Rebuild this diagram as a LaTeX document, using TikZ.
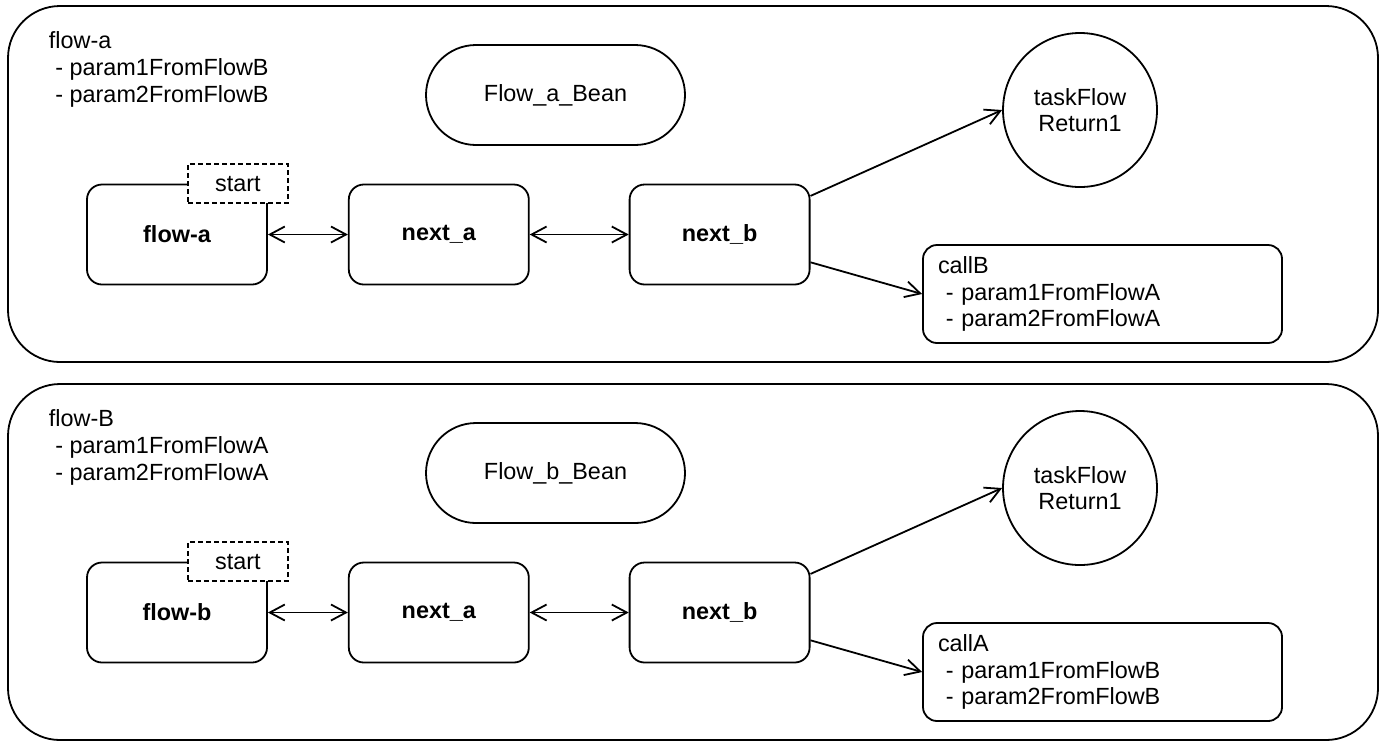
\documentclass[tikz,border=0pt]{standalone}
\usepackage{fontspec}
\setmainfont{Liberation Sans}
\usetikzlibrary{arrows.meta,positioning}
\tikzset{
  basic/.style    = {draw, rectangle, font=\fontsize{11.7}{13.3}\selectfont},
  group/.style    = {basic, rounded corners=26pt, minimum width=685pt,
                     minimum height=178pt},
  bean/.style     = {basic, rounded corners=25pt, minimum width=129.5pt,
                     minimum height=50pt},
  flowbox/.style  = {basic, rounded corners=7.5pt, minimum width=90pt,
                     minimum height=50pt, font=\fontsize{11.7}{13.3}\selectfont\bfseries},
  startbox/.style = {basic, fill=white, dash pattern=on 2.5pt off 1.5pt,
                     minimum width=50pt, minimum height=19.5pt, inner sep=0pt},
  result/.style   = {basic, circle, minimum size=77pt, inner sep=0pt, align=center},
  callbox/.style  = {basic, rounded corners=7pt, text width=164.5pt,
                     inner xsep=7.5pt, minimum height=49pt, align=left},
  grouptext/.style = {font=\fontsize{11.7}{13.3}\selectfont, align=left,
                     anchor=north west, inner sep=0pt}
}

\begin{document}
\begin{tikzpicture}[x=0.5pt, y=-0.5pt, line width=0.9pt,
  >={Straight Barb[length=7.5pt,width=8pt]}]
\useasboundingbox (0,0) rectangle (1384,741);

% first flow
\node[group] (gr1) at (693,184) {};
\node[grouptext] (gt1) at (48,31) {flow-a\\\mbox{ }- param1FromFlowB\\\mbox{ }- param2FromFlowB};
\node[bean] (bn1) at (555.5,95) {Flow\_a\_Bean};
\node[flowbox] (fl1) at (177,234.5) {flow-a};
\node[startbox, xshift=-15pt] (st1) at (fl1.north east) {start};
\node[flowbox, right=40pt of fl1] (na1) {next\_a};
\node[flowbox, right=49.5pt of na1] (nb1) {next\_b};
\node[result] (tf1) at (1080,110) {taskFlow\\Return1};
\node[callbox] (cl1) at (1102.5,294) {callB\\\mbox{ }- param1FromFlowA\\\mbox{ }- param2FromFlowA};

% second flow
\node[group] (gr2) at (693,562) {};
\node[grouptext] (gt2) at (48,409) {flow-B\\\mbox{ }- param1FromFlowA\\\mbox{ }- param2FromFlowA};
\node[bean] (bn2) at (555.5,473) {Flow\_b\_Bean};
\node[flowbox] (fl2) at (177,612.5) {flow-b};
\node[startbox, xshift=-15pt] (st2) at (fl2.north east) {start};
\node[flowbox, right=40pt of fl2] (na2) {next\_a};
\node[flowbox, right=49.5pt of na2] (nb2) {next\_b};
\node[result] (tf2) at (1080,488) {taskFlow\\Return1};
\node[callbox] (cl2) at (1102.5,672) {callA\\\mbox{ }- param1FromFlowB\\\mbox{ }- param2FromFlowB};

\foreach \g in {1,2} {
  \draw[<->] (fl\g) -- (na\g);
  \draw[<->] (na\g) -- (nb\g);
  \draw[->] (nb\g.23) -- (tf\g.west);
  \draw[->] (nb\g.-17) -- (cl\g.west);
}
\end{tikzpicture}
\end{document}
